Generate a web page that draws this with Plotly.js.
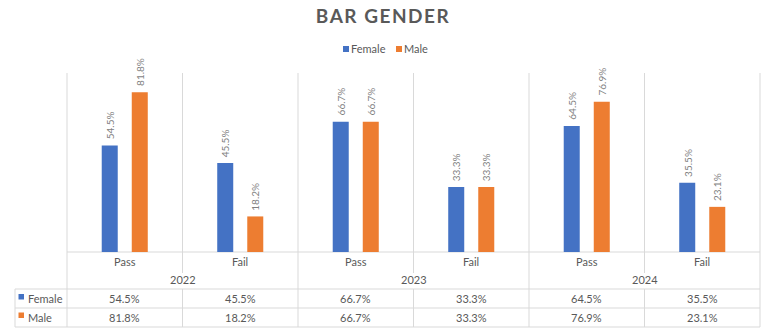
<!DOCTYPE html>
<html>
<head>
<meta charset="utf-8">
<script src="https://cdn.plot.ly/plotly-3.0.1.min.js"></script>
<style>
  html, body { margin: 0; padding: 0; background: #ffffff; }
  #chart { width: 768px; height: 330px; }
</style>
</head>
<body>
<div id="chart"></div>
<script>
// ---------------- data ----------------
const years = ['2022', '2023', '2024'];
const outcomes = ['Pass', 'Fail'];
const seriesNames = ['Female', 'Male'];
const femaleValues = [54.5, 45.5, 66.7, 33.3, 64.5, 35.5];
const maleValues = [81.8, 18.2, 66.7, 33.3, 76.9, 23.1];
const seriesColors = ['#4472C4', '#ED7D31'];
const chartTitle = 'BAR GENDER';

// ---------------- layout helpers (pixel geometry of plot area) ----------------
const PX = { l: 67, r: 760, t: 73, b: 252 };
function xp(px) { return (px - PX.l) / (PX.r - PX.l); }
function yp(py) { return (PX.b - py) / (PX.b - PX.t); }

const FONT = 'Lato, "Open Sans", "DejaVu Sans", sans-serif';
const TEXT_COLOR = '#595959';
const LABEL_COLOR = '#7f7f7f';
const GRID = '#d9d9d9';

const nCat = years.length * outcomes.length;
const xIdx = [];
const catLabels = [];
for (let y = 0; y < years.length; y++) {
  for (let o = 0; o < outcomes.length; o++) {
    xIdx.push(xIdx.length);
    catLabels.push(outcomes[o]);
  }
}
const seriesValues = [femaleValues, maleValues];

// ---------------- traces ----------------
const traces = seriesNames.map((name, s) => ({
  type: 'bar',
  name: name,
  x: xIdx,
  y: seriesValues[s],
  marker: { color: seriesColors[s], line: { width: 0 } },
  hovertemplate: name + ': %{y:.1f}%<extra></extra>',
  showlegend: false
}));

// ---------------- annotations & shapes ----------------
const annotations = [];
const shapes = [];

// data labels (rotated, above bars)
seriesValues.forEach((vals, s) => {
  vals.forEach((v, i) => {
    annotations.push({
      xref: 'x', yref: 'y', x: xIdx[i], y: v,
      xshift: s === 0 ? -15 : 15, yshift: 6,
      text: v.toFixed(1) + '%', textangle: -90,
      showarrow: false, xanchor: 'center', yanchor: 'bottom',
      borderpad: 0, borderwidth: 0,
      font: { family: FONT, size: 10, color: LABEL_COLOR }
    });
  });
});

// custom top legend
const legendSq = [343, 396];
seriesNames.forEach((name, s) => {
  shapes.push({
    type: 'rect', xref: 'paper', yref: 'paper',
    x0: xp(legendSq[s]), x1: xp(legendSq[s] + 6),
    y0: yp(52), y1: yp(46),
    fillcolor: seriesColors[s], line: { width: 0 }
  });
  annotations.push({
    xref: 'paper', yref: 'paper', x: xp(legendSq[s] + 8), y: yp(48.5),
    xanchor: 'left', yanchor: 'middle', showarrow: false,
    borderpad: 0, borderwidth: 0,
    text: name, font: { family: FONT, size: 11, color: TEXT_COLOR }
  });
});

// grid / table lines
function line(x0, y0, x1, y1) {
  shapes.push({
    type: 'line', xref: 'paper', yref: 'paper', layer: 'below',
    x0: x0, y0: y0, x1: x1, y1: y1,
    line: { color: GRID, width: 1 }
  });
}
for (let i = 0; i <= nCat; i++) {
  const xb = i / nCat;
  if (i % outcomes.length === 0) {
    line(xb, yp(PX.t), xb, yp(327));
  } else {
    line(xb, yp(PX.t), xb, yp(273));
    line(xb, yp(289), xb, yp(327));
  }
}
line(0, yp(252), 1, yp(252));
[289, 308, 327].forEach(py => line(xp(15), yp(py), 1, yp(py)));
line(xp(15), yp(289), xp(15), yp(327));

// category labels row
catLabels.forEach((lab, i) => {
  annotations.push({
    xref: 'paper', yref: 'paper', x: (i + 0.5) / nCat, y: yp(261),
    xanchor: 'center', yanchor: 'middle', showarrow: false,
    borderpad: 0, borderwidth: 0,
    text: lab, font: { family: FONT, size: 11, color: TEXT_COLOR }
  });
});
// year labels row
years.forEach((yr, j) => {
  annotations.push({
    xref: 'paper', yref: 'paper', x: (j + 0.5) / years.length, y: yp(279.5),
    xanchor: 'center', yanchor: 'middle', showarrow: false,
    borderpad: 0, borderwidth: 0,
    text: yr, font: { family: FONT, size: 11, color: TEXT_COLOR }
  });
});
// data table rows
const rowY = [298.5, 317];
seriesNames.forEach((name, s) => {
  shapes.push({
    type: 'rect', xref: 'paper', yref: 'paper',
    x0: xp(18.5), x1: xp(24), y0: yp(rowY[s] + 1), y1: yp(rowY[s] - 4.5),
    fillcolor: seriesColors[s], line: { width: 0 }
  });
  annotations.push({
    xref: 'paper', yref: 'paper', x: xp(27.5), y: yp(rowY[s]),
    xanchor: 'left', yanchor: 'middle', showarrow: false,
    borderpad: 0, borderwidth: 0,
    text: name, font: { family: FONT, size: 11, color: TEXT_COLOR }
  });
  seriesValues[s].forEach((v, i) => {
    annotations.push({
      xref: 'paper', yref: 'paper', x: (i + 0.5) / nCat, y: yp(rowY[s]),
      xanchor: 'center', yanchor: 'middle', showarrow: false,
      borderpad: 0, borderwidth: 0,
      text: v.toFixed(1) + '%', font: { family: FONT, size: 11, color: TEXT_COLOR }
    });
  });
});

// ---------------- layout ----------------
const layout = {
  width: 768, height: 330,
  margin: { l: PX.l, r: 768 - PX.r, t: PX.t, b: 330 - PX.b, pad: 0 },
  paper_bgcolor: '#ffffff', plot_bgcolor: '#ffffff',
  title: {
    text: chartTitle,
    font: { family: FONT, size: 19, color: TEXT_COLOR, weight: 700 },
    xref: 'container', yref: 'container',
    x: 383 / 768, xanchor: 'center',
    y: 1 - 16 / 330, yanchor: 'middle'
  },
  barmode: 'group', bargap: 0.48, bargroupgap: 0.467,
  xaxis: { range: [-0.5, nCat - 0.5], visible: false, fixedrange: true },
  yaxis: { range: [0, 91.6], visible: false, fixedrange: true },
  showlegend: false,
  annotations: annotations,
  shapes: shapes
};

Plotly.newPlot('chart', traces, layout, { displayModeBar: false, staticPlot: true }).then(() => {
  const t = document.querySelector('.gtitle');
  if (t) t.style.letterSpacing = '1.5px';
});
</script>
</body>
</html>
